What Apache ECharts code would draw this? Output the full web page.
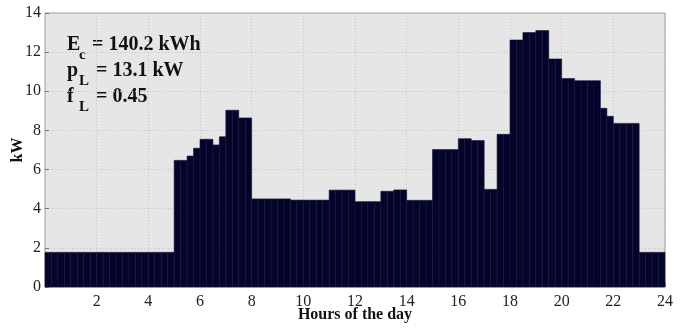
<!DOCTYPE html>
<html>
<head>
<meta charset="utf-8">
<script src="https://cdn.jsdelivr.net/npm/echarts@6/dist/echarts.min.js"></script>
<style>
  html, body { margin: 0; padding: 0; background: #fff; }
  #chart { width: 686px; height: 329px; }
</style>
</head>
<body>
<div id="chart"></div>
<script>
// Daily load profile, 15-minute resolution (kW), one row per hour
const stepHours = 0.25;
const loadKW = [
  1.77, 1.77, 1.77, 1.77,   // 0
  1.77, 1.77, 1.77, 1.77,   // 1
  1.77, 1.77, 1.77, 1.77,   // 2
  1.77, 1.77, 1.77, 1.77,   // 3
  1.77, 1.77, 1.77, 1.77,   // 4
  6.47, 6.47, 6.69, 7.09,   // 5
  7.55, 7.55, 7.26, 7.68,   // 6
  9.03, 9.03, 8.64, 8.64,   // 7
  4.50, 4.50, 4.50, 4.50,   // 8
  4.50, 4.50, 4.44, 4.44,   // 9
  4.44, 4.44, 4.44, 4.44,   // 10
  4.95, 4.95, 4.95, 4.95,   // 11
  4.36, 4.36, 4.36, 4.36,   // 12
  4.89, 4.89, 4.96, 4.96,   // 13
  4.43, 4.43, 4.43, 4.43,   // 14
  7.02, 7.02, 7.02, 7.02,   // 15
  7.58, 7.58, 7.48, 7.48,   // 16
  4.99, 4.99, 7.80, 7.80,   // 17
  12.62, 12.62, 13.00, 13.00, // 18
  13.10, 13.10, 11.65, 11.65, // 19
  10.65, 10.65, 10.54, 10.54, // 20
  10.54, 10.54, 9.13, 8.72,   // 21
  8.36, 8.36, 8.36, 8.36,   // 22
  1.77, 1.77, 1.77, 1.77    // 23
];

// Axis ticks
const xTicks = [0, 2, 4, 6, 8, 10, 12, 14, 16, 18, 20, 22, 24];
const yTicks = [0, 2, 4, 6, 8, 10, 12, 14];

// Summary figures printed in the upper-left corner
const summary = [
  { sym: 'E', sub: 'c', text: '= 140.2 kWh' },
  { sym: 'p', sub: 'L', text: '= 13.1 kW' },
  { sym: 'f', sub: 'L', text: '= 0.45' }
];

const barData = loadKW.map((v, i) => [i * stepHours, (i + 1) * stepHours, v]);

const serif = '"Liberation Serif", "DejaVu Serif", serif';
const chart = echarts.init(document.getElementById('chart'), null, { renderer: 'canvas' });

const summaryGraphics = [];
summary.forEach((row, k) => {
  const y0 = 35 + k * 26;
  summaryGraphics.push(
    { type: 'text', left: 67, top: y0, style: { text: row.sym, font: 'bold 20px ' + serif, fill: '#111' } },
    { type: 'text', left: 79, top: y0 + 13, style: { text: row.sub, font: 'bold 15px ' + serif, fill: '#111' } },
    { type: 'text', left: row.sym === 'E' ? 92 : 96, top: y0, style: { text: row.text, font: 'bold 20px ' + serif, fill: '#111' } }
  );
});

chart.setOption({
  animation: false,
  backgroundColor: '#ffffff',
  grid: {
    left: 45, right: 21, top: 13, bottom: 42,
    outerBoundsMode: 'none', containLabel: false,
    show: true, backgroundColor: '#e6e6e6', borderColor: '#9a9a9a', borderWidth: 1
  },
  xAxis: {
    type: 'value',
    min: xTicks[0], max: xTicks[xTicks.length - 1], interval: 2,
    name: 'Hours of the day',
    nameLocation: 'middle', nameGap: 20, nameMoveOverlap: false,
    nameTextStyle: { fontFamily: serif, fontWeight: 'bold', fontSize: 16, color: '#111' },
    axisLine: { show: false },
    axisTick: { show: true, inside: true, length: 4, lineStyle: { color: '#777' } },
    axisLabel: {
      fontFamily: serif, fontSize: 16, color: '#222', margin: 7,
      formatter: v => (v === 0 ? '' : String(v))
    },
    splitLine: { show: true, lineStyle: { color: '#c4c4c4', type: [1, 2], width: 1 } }
  },
  yAxis: {
    type: 'value',
    min: yTicks[0], max: yTicks[yTicks.length - 1], interval: 2,
    name: 'kW',
    nameLocation: 'middle', nameGap: 19, nameRotate: 90, nameMoveOverlap: false,
    nameTextStyle: { fontFamily: serif, fontWeight: 'bold', fontSize: 16, color: '#111' },
    axisLine: { show: false },
    axisTick: { show: true, inside: true, length: 4, lineStyle: { color: '#777' } },
    axisLabel: { fontFamily: serif, fontSize: 16, color: '#222', margin: 4 },
    splitLine: { show: true, lineStyle: { color: '#c4c4c4', type: [1, 2], width: 1 } }
  },
  series: [{
    type: 'custom',
    data: barData,
    encode: { x: [0, 1], y: 2 },
    renderItem: function (params, api) {
      const p0 = api.coord([api.value(0), api.value(2)]);
      const p1 = api.coord([api.value(1), 0]);
      return {
        type: 'rect',
        shape: { x: p0[0], y: p0[1], width: p1[0] - p0[0], height: p1[1] - p0[1] },
        style: { fill: '#04042a', stroke: '#141440', lineWidth: 0.6 }
      };
    }
  }],
  graphic: summaryGraphics
});
</script>
</body>
</html>
